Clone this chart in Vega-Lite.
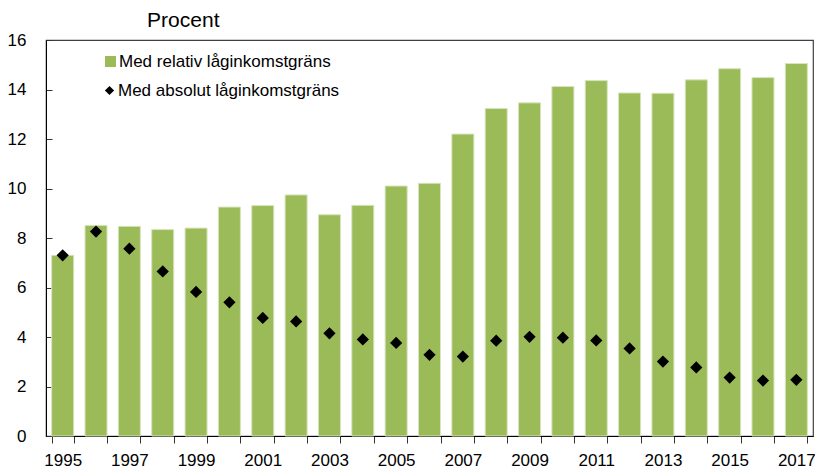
{
  "$schema": "https://vega.github.io/schema/vega-lite/v6.json",
  "autosize": "none",
  "width": 767,
  "height": 396,
  "padding": {"left": 46, "top": 40, "right": 2, "bottom": 39},
  "background": "white",
  "config": {
    "view": {"stroke": "#404040", "strokeWidth": 1.2},
    "font": "Liberation Sans",
    "axis": {"grid": false, "domainColor": "#000000", "tickColor": "#333333", "labelColor": "#000000", "labelFont": "Liberation Sans", "labelFontSize": 17, "title": null},
    "legend": {"labelFont": "Liberation Sans", "labelFontSize": 17, "labelColor": "#000000", "labelLimit": 0, "title": null, "orient": "none"}
  },
  "title": {"text": "Procent", "anchor": "start", "dx": 140, "offset": 0, "font": "Liberation Sans", "fontSize": 21, "fontWeight": "normal", "color": "#000000"},
  "data": {"values": [
    {"year": "1995", "rel": 7.30, "abs": 7.30},
    {"year": "1996", "rel": 8.51, "abs": 8.26},
    {"year": "1997", "rel": 8.47, "abs": 7.57},
    {"year": "1998", "rel": 8.34, "abs": 6.65},
    {"year": "1999", "rel": 8.40, "abs": 5.82},
    {"year": "2000", "rel": 9.25, "abs": 5.40},
    {"year": "2001", "rel": 9.31, "abs": 4.77},
    {"year": "2002", "rel": 9.74, "abs": 4.63},
    {"year": "2003", "rel": 8.94, "abs": 4.15},
    {"year": "2004", "rel": 9.32, "abs": 3.90},
    {"year": "2005", "rel": 10.10, "abs": 3.76},
    {"year": "2006", "rel": 10.21, "abs": 3.28},
    {"year": "2007", "rel": 12.20, "abs": 3.21},
    {"year": "2008", "rel": 13.23, "abs": 3.85},
    {"year": "2009", "rel": 13.46, "abs": 4.01},
    {"year": "2010", "rel": 14.12, "abs": 3.97},
    {"year": "2011", "rel": 14.36, "abs": 3.86},
    {"year": "2012", "rel": 13.86, "abs": 3.54},
    {"year": "2013", "rel": 13.85, "abs": 3.01},
    {"year": "2014", "rel": 14.39, "abs": 2.77},
    {"year": "2015", "rel": 14.84, "abs": 2.36},
    {"year": "2016", "rel": 14.48, "abs": 2.24},
    {"year": "2017", "rel": 15.05, "abs": 2.27}
  ]},
  "encoding": {
    "x": {
      "field": "year", "type": "ordinal",
      "scale": {"paddingInner": 0.34, "paddingOuter": 0.17},
      "axis": {"labelAngle": 0, "tickBand": "extent", "tickSize": 7, "labelPadding": 9, "labelOverlap": false,
               "labelExpr": "(+datum.value - 1995) % 2 == 0 ? datum.label : ''"}
    }
  },
  "layer": [
    {
      "mark": {"type": "bar", "stroke": "#D7E4BD", "strokeWidth": 1},
      "encoding": {
        "y": {"field": "rel", "type": "quantitative",
              "scale": {"domain": [0, 16]},
              "axis": {"values": [0, 2, 4, 6, 8, 10, 12, 14, 16], "tickSize": -6, "labelPadding": 26}},
        "color": {"datum": "Med relativ låginkomstgräns", "type": "nominal",
                  "scale": {"range": ["#9BBB59"]},
                  "legend": {"legendX": 56, "legendY": 13, "symbolType": "square", "symbolSize": 121, "symbolStrokeWidth": 0, "labelOffset": 0}}
      }
    },
    {
      "mark": {"type": "point", "shape": "diamond", "filled": true, "size": 150, "opacity": 1, "color": "#000000"},
      "encoding": {
        "y": {"field": "abs", "type": "quantitative"},
        "shape": {"datum": "Med absolut låginkomstgräns", "type": "nominal",
                  "scale": {"range": ["diamond"]},
                  "legend": {"legendX": 55, "legendY": 42, "symbolSize": 85, "symbolFillColor": "#000000", "symbolStrokeWidth": 0, "symbolOpacity": 1, "labelOffset": 0}}
      }
    }
  ]
}
